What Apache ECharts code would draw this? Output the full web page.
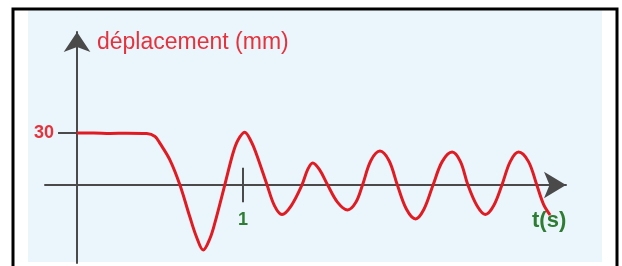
<!DOCTYPE html>
<html>
<head>
<meta charset="utf-8">
<script src="https://cdn.jsdelivr.net/npm/echarts@6/dist/echarts.min.js"></script>
<style>
html,body{margin:0;padding:0;background:#fff;}
#c{width:622px;height:266px;}
</style>
</head>
<body>
<div id="c"></div>
<script>
// time (s)
const tValues = [0, 0.1, 0.2, 0.3, 0.42, 0.47, 0.5, 0.56, 0.62, 0.68, 0.72, 0.76, 0.8, 0.83, 0.89, 0.94, 0.97, 1.01, 1.05, 1.08, 1.145, 1.19, 1.235, 1.29, 1.355, 1.39, 1.42, 1.46, 1.51, 1.57, 1.63, 1.68, 1.72, 1.77, 1.825, 1.88, 1.93, 1.985, 2.04, 2.09, 2.145, 2.2, 2.26, 2.31, 2.355, 2.41, 2.46, 2.51, 2.56, 2.61, 2.66, 2.72, 2.77, 2.81, 2.85];
// displacement (mm)
const dispValues = [30, 30, 29.8, 29.9, 29.7, 28, 24, 14.4, 0, -18.5, -30, -37.5, -31, -22, 0, 18.5, 26, 30.5, 25, 18, 0, -12, -17, -12, 0, 9, 12.7, 9, 0, -10, -14.4, -10, 0, 14, 19.6, 14, 0, -14, -19.6, -14, 0, 13.5, 19, 13.5, 0, -12, -17, -12, 0, 13.5, 19, 13.5, 0, -11, -17.3];
// tick labels
const yTickValues = [30];
const xTickValues = [1];
const yAxisName = 'déplacement (mm)';
const xAxisName = 't(s)';

const red = '#e6323c';
const green = '#2e7d32';
const axisColor = '#4a4a4a';

const chart = echarts.init(document.getElementById('c'), null, {renderer: 'canvas'});
const seriesData = tValues.map((t, i) => [t, dispValues[i]]);

chart.setOption({
  animation: false,
  backgroundColor: '#ffffff',
  graphic: [
    {type: 'rect', z: -10, shape: {x: 28, y: 10, width: 574, height: 252}, style: {fill: '#eaf6fc'}},
    {type: 'rect', z: 100, shape: {x: 13, y: 9, width: 604, height: 280}, style: {fill: 'none', stroke: '#000', lineWidth: 3}},
    {type: 'text', z: 50, left: 97, top: 31, style: {text: yAxisName, fill: red, font: 'normal 23px "Liberation Sans", Arial, sans-serif'}},
    {type: 'text', z: 50, left: 532, top: 210, style: {text: xAxisName, fill: green, font: 'bold 22px "Liberation Sans", Arial, sans-serif'}}
  ],
  grid: {left: 45, right: 56, top: 32, bottom: 3, containLabel: false, outerBoundsMode: 'none'},
  xAxis: {
    type: 'value', min: -0.193, max: 2.946,
    splitLine: {show: false},
    axisLine: {show: true, onZero: true, symbol: ['none', 'arrow'], symbolSize: [20, 22], lineStyle: {color: axisColor, width: 2}},
    axisTick: {show: false},
    axisLabel: {customValues: xTickValues, color: green, fontWeight: 'bold', fontSize: 18, margin: -52, fontFamily: '"Liberation Sans", Arial, sans-serif'}
  },
  yAxis: {
    type: 'value', min: -45, max: 88.3,
    splitLine: {show: false},
    axisLine: {show: true, onZero: true, symbol: ['none', 'arrow'], symbolSize: [20, 20], lineStyle: {color: axisColor, width: 2}},
    axisTick: {show: true, customValues: yTickValues, length: 19, lineStyle: {color: axisColor, width: 2}},
    axisLabel: {customValues: yTickValues, color: red, fontWeight: 'bold', fontSize: 18, margin: -9, fontFamily: '"Liberation Sans", Arial, sans-serif'}
  },
  series: [{
    type: 'line',
    data: seriesData,
    smooth: 0.35,
    showSymbol: false,
    lineStyle: {color: '#e11b22', width: 3},
    z: 3,
    markLine: {
      silent: true,
      symbol: 'none',
      label: {show: false},
      lineStyle: {color: axisColor, width: 2, type: 'solid'},
      data: xTickValues.map(v => [{coord: [v, -10]}, {coord: [v, 10]}])
    }
  }]
});
</script>
</body>
</html>
